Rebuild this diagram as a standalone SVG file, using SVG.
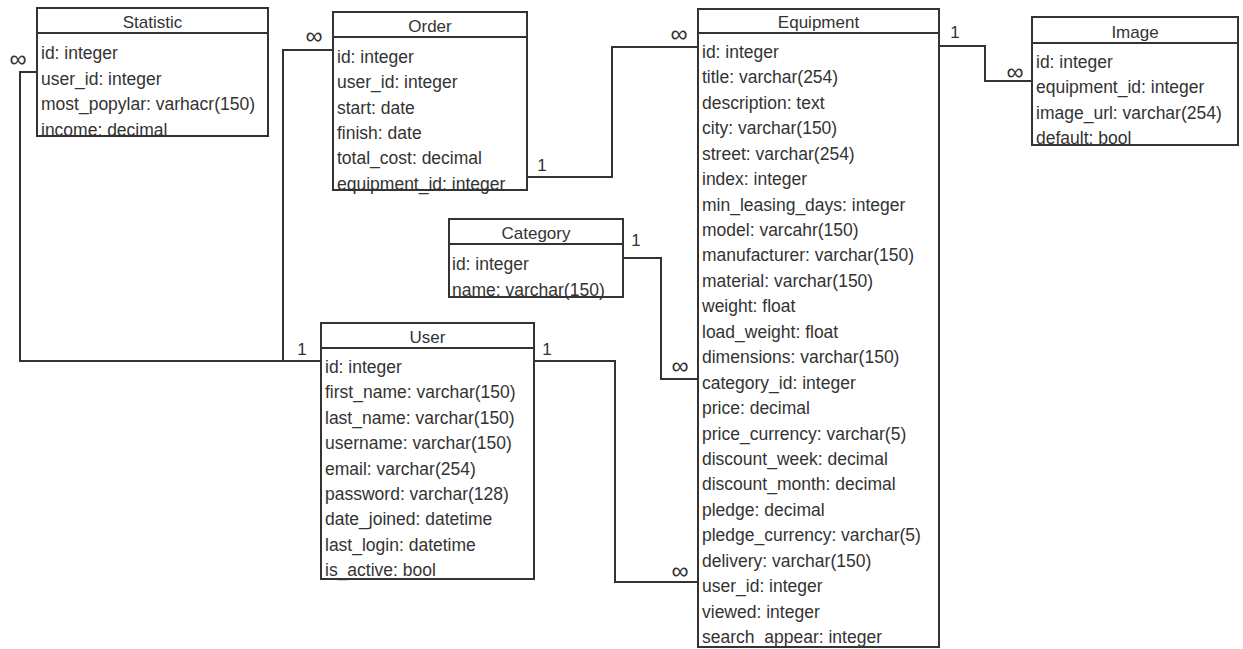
<svg xmlns="http://www.w3.org/2000/svg" width="1243" height="649" viewBox="0 0 1243 649">
  <style>
    .box { fill: #ffffff; stroke: #333333; stroke-width: 2; }
    .sep { stroke: #333333; stroke-width: 2; }
    .title { font-family: "Liberation Sans", Arial, sans-serif; font-size: 17px; fill: #333333; text-anchor: middle; }
    .row { font-family: "Liberation Sans", Arial, sans-serif; font-size: 17.5px; fill: #333333; }
    .link { fill: none; stroke: #333333; stroke-width: 2; }
    .card { font-family: "Liberation Sans", Arial, sans-serif; font-size: 17px; fill: #333333; text-anchor: middle; dominant-baseline: central; }
    .many { font-family: "Liberation Sans", Arial, sans-serif; font-size: 24px; fill: #333333; text-anchor: middle; dominant-baseline: central; }
  </style>
  <rect width="1243" height="649" fill="#ffffff"/>

  <!-- relations -->
  <g id="connectors">
    <path class="link" d="M37,72 H20 V361 H321"/>
    <path class="link" d="M333,50 H283 V361"/>
    <path class="link" d="M527,177 H612 V47 H698"/>
    <path class="link" d="M939,46 H985 V81 H1032"/>
    <path class="link" d="M623,258 H661 V379 H698"/>
    <path class="link" d="M534,361 H615 V582 H698"/>
    <text class="many" x="18" y="58">∞</text>
    <text class="card" x="302" y="349">1</text>
    <text class="many" x="314" y="35">∞</text>
    <text class="card" x="542" y="165">1</text>
    <text class="many" x="679" y="33">∞</text>
    <text class="card" x="955" y="32">1</text>
    <text class="many" x="1015" y="71">∞</text>
    <text class="card" x="636" y="240">1</text>
    <text class="many" x="680" y="365">∞</text>
    <text class="card" x="547" y="349">1</text>
    <text class="many" x="680" y="570">∞</text>
  </g>

  <!-- Statistic -->
  <g id="statistic">
    <rect class="box" x="37" y="8" width="231" height="128"/>
    <line class="sep" x1="37" y1="33" x2="268" y2="33"/>
    <text class="title" x="152.5" y="28">Statistic</text>
    <text class="row" x="41" y="59">id: integer</text>
    <text class="row" x="41" y="84.5">user_id: integer</text>
    <text class="row" x="41" y="110">most_popylar: varhacr(150)</text>
    <text class="row" x="41" y="135.5">income: decimal</text>
    <line class="sep" x1="37" y1="136" x2="268" y2="136"/>
  </g>

  <!-- Order -->
  <g id="order">
    <rect class="box" x="333" y="12" width="194" height="178"/>
    <line class="sep" x1="333" y1="37" x2="527" y2="37"/>
    <text class="title" x="430" y="32">Order</text>
    <text class="row" x="337" y="63">id: integer</text>
    <text class="row" x="337" y="88.3">user_id: integer</text>
    <text class="row" x="337" y="113.6">start: date</text>
    <text class="row" x="337" y="138.9">finish: date</text>
    <text class="row" x="337" y="164.2">total_cost: decimal</text>
    <text class="row" x="337" y="189.5">equipment_id: integer</text>
    <line class="sep" x1="333" y1="190" x2="527" y2="190"/>
  </g>

  <!-- Equipment -->
  <g id="equipment">
    <rect class="box" x="698" y="9" width="241" height="638"/>
    <line class="sep" x1="698" y1="33" x2="939" y2="33"/>
    <text class="title" x="818.5" y="28">Equipment</text>
    <text class="row" x="702" y="58">id: integer</text>
    <text class="row" x="702" y="83.4">title: varchar(254)</text>
    <text class="row" x="702" y="108.9">description: text</text>
    <text class="row" x="702" y="134.3">city: varchar(150)</text>
    <text class="row" x="702" y="159.7">street: varchar(254)</text>
    <text class="row" x="702" y="185.2">index: integer</text>
    <text class="row" x="702" y="210.6">min_leasing_days: integer</text>
    <text class="row" x="702" y="236">model: varcahr(150)</text>
    <text class="row" x="702" y="261.4">manufacturer: varchar(150)</text>
    <text class="row" x="702" y="286.9">material: varchar(150)</text>
    <text class="row" x="702" y="312.3">weight: float</text>
    <text class="row" x="702" y="337.7">load_weight: float</text>
    <text class="row" x="702" y="363.2">dimensions: varchar(150)</text>
    <text class="row" x="702" y="388.6">category_id: integer</text>
    <text class="row" x="702" y="414">price: decimal</text>
    <text class="row" x="702" y="439.5">price_currency: varchar(5)</text>
    <text class="row" x="702" y="464.9">discount_week: decimal</text>
    <text class="row" x="702" y="490.3">discount_month: decimal</text>
    <text class="row" x="702" y="515.7">pledge: decimal</text>
    <text class="row" x="702" y="541.2">pledge_currency: varchar(5)</text>
    <text class="row" x="702" y="566.6">delivery: varchar(150)</text>
    <text class="row" x="702" y="592">user_id: integer</text>
    <text class="row" x="702" y="617.5">viewed: integer</text>
    <text class="row" x="702" y="642.9">search_appear: integer</text>
    <line class="sep" x1="698" y1="647" x2="939" y2="647"/>
  </g>

  <!-- Image -->
  <g id="image">
    <rect class="box" x="1032" y="17" width="206" height="128"/>
    <line class="sep" x1="1032" y1="43" x2="1238" y2="43"/>
    <text class="title" x="1135" y="38">Image</text>
    <text class="row" x="1036" y="68">id: integer</text>
    <text class="row" x="1036" y="93.4">equipment_id: integer</text>
    <text class="row" x="1036" y="118.8">image_url: varchar(254)</text>
    <text class="row" x="1036" y="144.2">default: bool</text>
    <line class="sep" x1="1032" y1="145" x2="1238" y2="145"/>
  </g>

  <!-- Category -->
  <g id="category">
    <rect class="box" x="449" y="219" width="174" height="78"/>
    <line class="sep" x1="449" y1="244" x2="623" y2="244"/>
    <text class="title" x="536" y="239">Category</text>
    <text class="row" x="452" y="270">id: integer</text>
    <text class="row" x="452" y="295.5">name: varchar(150)</text>
    <line class="sep" x1="449" y1="297" x2="623" y2="297"/>
  </g>

  <!-- User -->
  <g id="user">
    <rect class="box" x="321" y="323" width="213" height="256"/>
    <line class="sep" x1="321" y1="348" x2="534" y2="348"/>
    <text class="title" x="427.5" y="343">User</text>
    <text class="row" x="325" y="373">id: integer</text>
    <text class="row" x="325" y="398.4">first_name: varchar(150)</text>
    <text class="row" x="325" y="423.8">last_name: varchar(150)</text>
    <text class="row" x="325" y="449.2">username: varchar(150)</text>
    <text class="row" x="325" y="474.6">email: varchar(254)</text>
    <text class="row" x="325" y="500">password: varchar(128)</text>
    <text class="row" x="325" y="525.4">date_joined: datetime</text>
    <text class="row" x="325" y="550.8">last_login: datetime</text>
    <text class="row" x="325" y="576.2">is_active: bool</text>
    <line class="sep" x1="321" y1="579" x2="534" y2="579"/>
  </g>
</svg>
